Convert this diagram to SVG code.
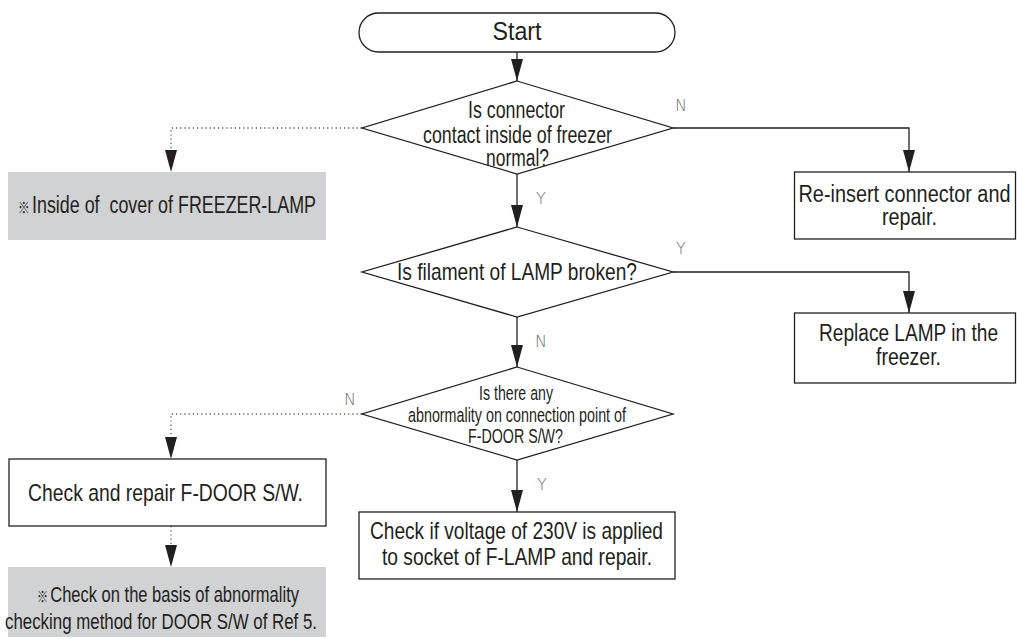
<svg xmlns="http://www.w3.org/2000/svg" width="1017" height="639" viewBox="0 0 1017 639">
<defs>
<style>
.shape{fill:#ffffff;stroke:#231f20;stroke-width:1.3}
.gray{fill:#d1d2d4;stroke:none}
.t{font-family:"Liberation Sans Narrow","Liberation Sans","Noto Sans CJK JP",sans-serif;fill:#231f20;text-anchor:middle}
.lbl{font-family:"DejaVu Sans","Liberation Sans",sans-serif;font-weight:200;font-size:16px;fill:#6d6e71;text-anchor:middle}
.solid{fill:none;stroke:#231f20;stroke-width:1.3}
.dot{fill:none;stroke:#58595b;stroke-width:1.3;stroke-dasharray:1.2 3}
.ref{font-family:"Noto Sans CJK JP",sans-serif;font-size:15px}
</style>
<marker id="ah" markerUnits="userSpaceOnUse" markerWidth="23" markerHeight="12" refX="22" refY="6" orient="auto">
<path d="M0,0 L22,6 L0,12 z" fill="#231f20"/>
</marker>
</defs>
<rect width="1017" height="639" fill="#ffffff"/>

<g id="connectors">
<path class="solid" d="M517,52 V81" marker-end="url(#ah)"/>
<path class="solid" d="M673,128 H909 V172" marker-end="url(#ah)"/>
<path class="solid" d="M517,174 V227" marker-end="url(#ah)"/>
<path class="solid" d="M673,272 H909 V313" marker-end="url(#ah)"/>
<path class="solid" d="M517,317 V367" marker-end="url(#ah)"/>
<path class="solid" d="M517,460 V512" marker-end="url(#ah)"/>
<path class="dot" d="M362,128 H171 V150"/>
<path class="solid" d="M171,150 V172" stroke-opacity="0" marker-end="url(#ah)"/>
<path class="dot" d="M362,414 H171 V437"/>
<path class="solid" d="M171,437 V459" stroke-opacity="0" marker-end="url(#ah)"/>
<path class="dot" d="M171,526 V545"/>
<path class="solid" d="M171,545 V567" stroke-opacity="0" marker-end="url(#ah)"/>
<text class="lbl" x="681" y="111">N</text>
<text class="lbl" x="541" y="204">Y</text>
<text class="lbl" x="681" y="254">Y</text>
<text class="lbl" x="541" y="347">N</text>
<text class="lbl" x="350" y="405">N</text>
<text class="lbl" x="542" y="490">Y</text>
</g>

<g id="start">
<rect class="shape" x="359" y="13" width="316" height="39" rx="19.5" ry="19.5"/>
<text class="t" x="517" y="40" font-size="26.5" textLength="49" lengthAdjust="spacingAndGlyphs">Start</text>
</g>

<g id="d1">
<polygon class="shape" points="517,81 673,128 517,174 362,128"/>
<text class="t" x="516.5" y="118" font-size="23" textLength="97" lengthAdjust="spacingAndGlyphs">Is connector</text>
<text class="t" x="517.5" y="143" font-size="23" textLength="189" lengthAdjust="spacingAndGlyphs">contact inside of freezer</text>
<text class="t" x="517.5" y="166" font-size="23" textLength="63" lengthAdjust="spacingAndGlyphs">normal?</text>
</g>

<g id="note1">
<rect class="gray" x="8" y="172" width="318" height="68"/>
<text class="t" x="167" y="213" font-size="23" xml:space="preserve" textLength="298" lengthAdjust="spacingAndGlyphs"><tspan class="ref">※</tspan><tspan dx="3">Inside of  cover of FREEZER-LAMP</tspan></text>
</g>

<g id="reinsert">
<rect class="shape" x="794.5" y="172" width="221" height="67"/>
<text class="t" x="904.5" y="202" font-size="23.5" textLength="212" lengthAdjust="spacingAndGlyphs">Re-insert connector and</text>
<text class="t" x="909.5" y="225" font-size="23.5" textLength="55" lengthAdjust="spacingAndGlyphs">repair.</text>
</g>

<g id="d2">
<polygon class="shape" points="517,227 673,272 517,317 362,272"/>
<text class="t" x="517" y="280" font-size="24" textLength="240" lengthAdjust="spacingAndGlyphs">Is filament of LAMP broken?</text>
</g>

<g id="replace">
<rect class="shape" x="794.5" y="313" width="221" height="70"/>
<text class="t" x="908.5" y="341" font-size="23.5" textLength="179" lengthAdjust="spacingAndGlyphs">Replace LAMP in the</text>
<text class="t" x="908.5" y="365" font-size="23.5" textLength="65" lengthAdjust="spacingAndGlyphs">freezer.</text>
</g>

<g id="d3">
<polygon class="shape" points="517,367 673,414 517,460 362,414"/>
<text class="t" x="516" y="400" font-size="20.5" textLength="74" lengthAdjust="spacingAndGlyphs">Is there any</text>
<text class="t" x="517" y="422" font-size="20.5" textLength="218" lengthAdjust="spacingAndGlyphs">abnormality on connection point of</text>
<text class="t" x="515.5" y="443" font-size="20.5" textLength="95" lengthAdjust="spacingAndGlyphs">F-DOOR S/W?</text>
</g>

<g id="checkrepair">
<rect class="shape" x="9" y="459" width="317" height="67"/>
<text class="t" x="165.5" y="501" font-size="24" textLength="275" lengthAdjust="spacingAndGlyphs">Check and repair F-DOOR S/W.</text>
</g>

<g id="note2">
<rect class="gray" x="8" y="567" width="318" height="70"/>
<text class="t" x="168" y="602" font-size="22.5" textLength="262" lengthAdjust="spacingAndGlyphs"><tspan class="ref">※</tspan><tspan dx="3">Check on the basis of abnormality</tspan></text>
<text class="t" x="161" y="629" font-size="22.5" textLength="312" lengthAdjust="spacingAndGlyphs">checking method for DOOR S/W of Ref 5.</text>
</g>

<g id="voltage">
<rect class="shape" x="359" y="512" width="316" height="67"/>
<text class="t" x="516.5" y="539" font-size="24" textLength="293" lengthAdjust="spacingAndGlyphs">Check if voltage of 230V is applied</text>
<text class="t" x="517" y="565" font-size="24" textLength="270" lengthAdjust="spacingAndGlyphs">to socket of F-LAMP and repair.</text>
</g>
</svg>
